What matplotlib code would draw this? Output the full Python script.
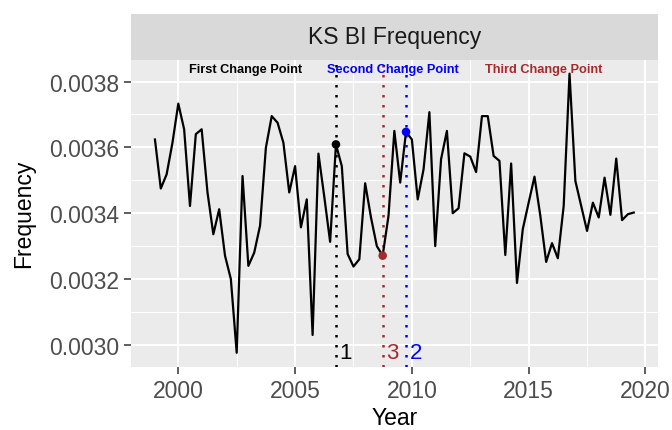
import numpy as np
import matplotlib
matplotlib.use("Agg")
import matplotlib.pyplot as plt
from matplotlib.ticker import MultipleLocator

plt.rcParams['font.family'] = ['Liberation Sans', 'DejaVu Sans']

# ---- data ----
start_year = 1999.0
freq = [0.003624, 0.003475, 0.003518, 0.003614, 0.003733, 0.003655, 0.003422, 0.003640,
        0.003655, 0.003463, 0.003336, 0.003412, 0.003271, 0.003200, 0.002976, 0.003513,
        0.003240, 0.003280, 0.003362, 0.003599, 0.003695, 0.003675, 0.003614, 0.003463,
        0.003543, 0.003357, 0.003442,
        0.003030, 0.003581, 0.003450, 0.003313, 0.003609, 0.003543, 0.003276, 0.003238,
        0.003260, 0.003491, 0.003387, 0.003300, 0.003271, 0.003392, 0.003650, 0.003493,
        0.003647, 0.003624, 0.003442, 0.003533, 0.003707, 0.003300, 0.003564, 0.003650,
        0.003400, 0.003415, 0.003582, 0.003572, 0.003525, 0.003695, 0.003695, 0.003574,
        0.003559, 0.003273, 0.003551, 0.003188, 0.003352, 0.003432, 0.003511, 0.003392,
        0.003252, 0.003309, 0.003263, 0.003422, 0.003824, 0.003498, 0.003422, 0.003346,
        0.003432, 0.003387, 0.003508, 0.003395, 0.003566, 0.003379, 0.003397, 0.003402]
years = start_year + 0.25 * np.arange(len(freq))

change_years = [2006.75, 2009.75, 2008.75]
change_labels = ['1', '2', '3']
change_colors = ['black', 'blue', '#A52A2A']
note_texts = ['First Change Point', 'Second Change Point', 'Third Change Point']
note_x = [2002.9, 2009.2, 2015.65]

strip_title = 'KS BI Frequency'
x_ticks = [2000, 2005, 2010, 2015, 2020]
y_ticks = [0.0030, 0.0032, 0.0034, 0.0036, 0.0038]

# ---- figure ----
W, H = 672, 431
fig = plt.figure(figsize=(W / 100, H / 100), dpi=100)
pl, pr, pt, pb = 131, 657.7, 60.7, 367.7
ax = fig.add_axes([pl / W, 1 - pb / H, (pr - pl) / W, (pb - pt) / H])
sax = fig.add_axes([pl / W, 1 - pt / H, (pr - pl) / W, (pt - 15) / H])

ax.set_facecolor('#EBEBEB')
for s in ax.spines.values():
    s.set_visible(False)

fv = np.array(freq)
xr = years.max() - years.min()
yr = fv.max() - fv.min()
ax.set_xlim(years.min() - 0.05 * xr, years.max() + 0.05 * xr)
ax.set_ylim(fv.min() - 0.05 * yr, fv.max() + 0.05 * yr)

ax.set_xticks(x_ticks)
ax.set_yticks(y_ticks)
ax.set_yticklabels([f'{v:.4f}' for v in y_ticks])
ax.xaxis.set_minor_locator(MultipleLocator(2.5))
ax.yaxis.set_minor_locator(MultipleLocator(0.0001))
ax.grid(which='major', color='white', lw=1.4)
ax.grid(which='minor', color='white', lw=0.7)
ax.set_axisbelow(True)
ax.tick_params(which='major', length=4.8, width=1.1, color='#333333',
               labelsize=16.5, labelcolor='#4D4D4D', pad=4)
ax.tick_params(which='minor', length=0)

ax.plot(years, freq, color='black', lw=1.6, zorder=3)

for cy, lab, col in zip(change_years, change_labels, change_colors):
    ax.axvline(cy, color=col, ls=(0, (1, 3)), lw=1.8, zorder=2)
    idx = int(round((cy - start_year) / 0.25))
    ax.scatter([cy], [freq[idx]], s=38, color=col, zorder=4, edgecolors='none')
    ax.text(cy + 0.15, fv.min(), lab, color=col, fontsize=16, ha='left', va='center', zorder=5)

for tx, txt, col in zip(note_x, note_texts, ['black', 'blue', '#A52A2A']):
    ax.text(tx, fv.max() + 0.000015, txt, color=col, fontsize=9.2, fontweight='bold',
            ha='center', va='center', zorder=5)

ax.set_xlabel('Year', fontsize=16.5, color='black', labelpad=3)
ax.set_ylabel('Frequency', fontsize=16.5, color='black', labelpad=10)

# strip
sax.set_facecolor('#D9D9D9')
sax.set_xticks([])
sax.set_yticks([])
for s in sax.spines.values():
    s.set_visible(False)
sax.text(0.5, 0.5, strip_title, transform=sax.transAxes, ha='center', va='center',
         fontsize=16.5, color='#1A1A1A')

fig.savefig('out.png', dpi=100)
